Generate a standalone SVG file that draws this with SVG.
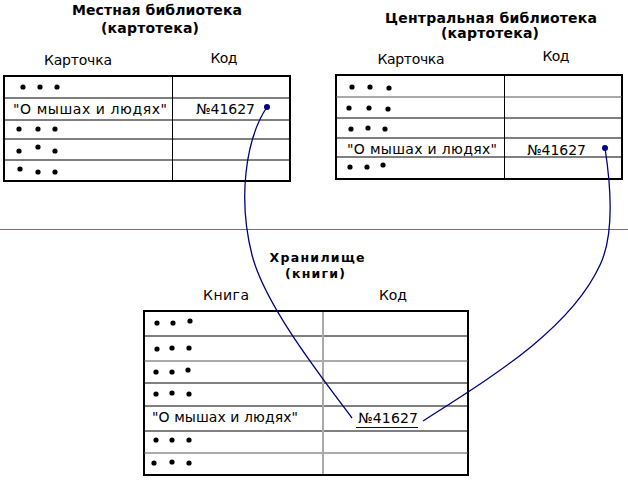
<svg xmlns="http://www.w3.org/2000/svg" width="628" height="482" viewBox="0 0 628 482">
<style>
text{font-family:"DejaVu Sans","Noto Sans",sans-serif;font-size:14px;fill:#000}
.t{font-weight:bold;text-anchor:middle}
.s{font-size:12.5px}
.h{text-anchor:middle}
.box{fill:#fff;stroke:#000;stroke-width:2}
.row{stroke:#000;stroke-width:1}
.rowg{stroke:#555;stroke-width:1}
.col{stroke:#000;stroke-width:1}
.colg{stroke:#aaa;stroke-width:2}
.d circle{fill:#000}
.c{fill:none;stroke:#000080;stroke-width:1.3}
</style>
<rect width="628" height="482" fill="#fff"/>
<line x1="0" y1="229.5" x2="628" y2="229.5" stroke="#e84040" stroke-width="1"/>

<g id="local">
<text class="t" x="157" y="15" textLength="170" lengthAdjust="spacing">Местная библиотека</text>
<text class="t" x="150" y="33" textLength="98" lengthAdjust="spacing">(картотека)</text>
<text class="h" x="78" y="65" textLength="68" lengthAdjust="spacing">Карточка</text>
<text class="h" x="224" y="63" textLength="27" lengthAdjust="spacing">Код</text>
<rect class="box" x="4" y="76" width="286" height="105"/>
<line class="row" x1="4" y1="98" x2="290" y2="98"/>
<line class="row" x1="4" y1="120" x2="290" y2="120"/>
<line class="row" x1="4" y1="139" x2="290" y2="139"/>
<line class="row" x1="4" y1="160" x2="290" y2="160"/>
<line class="col" x1="172.5" y1="76" x2="172.5" y2="181"/>
<g class="d">
<circle cx="23" cy="87" r="2.6"/><circle cx="40" cy="87" r="2.6"/><circle cx="57" cy="87" r="2.6"/>
<circle cx="19" cy="129" r="2.6"/><circle cx="38" cy="129" r="2.6"/><circle cx="55" cy="129" r="2.6"/>
<circle cx="19" cy="151" r="2.6"/><circle cx="38" cy="147" r="2.6"/><circle cx="55" cy="151" r="2.6"/>
<circle cx="20" cy="169" r="2.6"/><circle cx="38" cy="172" r="2.6"/><circle cx="55" cy="172" r="2.6"/>
</g>
<text x="13" y="114" textLength="154" lengthAdjust="spacing">"О мышах и людях"</text>
<text x="196" y="114" textLength="59" lengthAdjust="spacing">№41627</text>
</g>

<g id="central">
<text class="t" x="491" y="23" textLength="212" lengthAdjust="spacing">Центральная библиотека</text>
<text class="t" x="490" y="38" textLength="98" lengthAdjust="spacing">(картотека)</text>
<text class="h" x="411" y="64" textLength="67" lengthAdjust="spacing">Карточка</text>
<text class="h" x="556" y="61" textLength="27" lengthAdjust="spacing">Код</text>
<rect class="box" x="336" y="75" width="286" height="104"/>
<line class="rowg" x1="336" y1="97" x2="622" y2="97"/>
<line class="row" x1="336" y1="118" x2="622" y2="118"/>
<line class="row" x1="336" y1="138" x2="622" y2="138"/>
<line class="row" x1="336" y1="157" x2="622" y2="157"/>
<line class="col" x1="504.5" y1="75" x2="504.5" y2="179"/>
<g class="d">
<circle cx="352" cy="87" r="2.6"/><circle cx="370" cy="87" r="2.6"/><circle cx="389" cy="88" r="2.6"/>
<circle cx="349" cy="108" r="2.6"/><circle cx="369" cy="108" r="2.6"/><circle cx="388" cy="109" r="2.6"/>
<circle cx="351" cy="129" r="2.6"/><circle cx="368" cy="128" r="2.6"/><circle cx="385" cy="129" r="2.6"/>
<circle cx="350" cy="167" r="2.6"/><circle cx="367" cy="167" r="2.6"/><circle cx="383" cy="165" r="2.6"/>
</g>
<text x="347" y="154" textLength="150" lengthAdjust="spacing">"О мышах и людях"</text>
<text x="527" y="155" textLength="59" lengthAdjust="spacing">№41627</text>
</g>

<g id="storage">
<text class="t s" x="317" y="262" textLength="95" lengthAdjust="spacing">Хранилище</text>
<text class="t s" x="315" y="278" textLength="60" lengthAdjust="spacing">(книги)</text>
<text class="h" x="226" y="300" textLength="46" lengthAdjust="spacing">Книга</text>
<text class="h" x="393" y="300" textLength="28" lengthAdjust="spacing">Код</text>
<rect class="box" x="144" y="311" width="324" height="164"/>
<line class="row" x1="144" y1="336" x2="468" y2="336"/>
<line class="rowg" x1="144" y1="361" x2="468" y2="361"/>
<line class="row" x1="144" y1="383" x2="468" y2="383"/>
<line class="row" x1="144" y1="406" x2="468" y2="406"/>
<line class="row" x1="144" y1="431" x2="468" y2="431"/>
<line class="rowg" x1="144" y1="453" x2="468" y2="453"/>
<line class="colg" x1="323" y1="312" x2="323" y2="474"/>
<g class="d">
<circle cx="157" cy="323" r="2.6"/><circle cx="173" cy="323" r="2.6"/><circle cx="190" cy="321" r="2.6"/>
<circle cx="157" cy="349" r="2.6"/><circle cx="172" cy="348" r="2.6"/><circle cx="189" cy="348" r="2.6"/>
<circle cx="156" cy="372" r="2.6"/><circle cx="172" cy="372" r="2.6"/><circle cx="188" cy="370" r="2.6"/>
<circle cx="156" cy="394" r="2.6"/><circle cx="172" cy="393" r="2.6"/><circle cx="189" cy="394" r="2.6"/>
<circle cx="156" cy="440" r="2.6"/><circle cx="172" cy="440" r="2.6"/><circle cx="189" cy="440" r="2.6"/>
<circle cx="154" cy="463" r="2.6"/><circle cx="172" cy="462" r="2.6"/><circle cx="189" cy="463" r="2.6"/>
</g>
<text x="152" y="422" textLength="146" lengthAdjust="spacing">"О мышах и людях"</text>
<text x="358" y="423" textLength="60" lengthAdjust="spacing">№41627</text>
</g>

<g id="connectors">
<line x1="356" y1="427.5" x2="418" y2="427.5" stroke="#000080" stroke-width="1"/>
<path class="c" d="M267,107 C245,140 238,200 252,255 C265,305 320,375 352,418"/>
<path class="c" d="M605,148 C613,200 612,240 600,265 C570,330 490,378 423,421"/>
<circle cx="267" cy="107" r="3" fill="#000080"/>
<circle cx="605" cy="148" r="3" fill="#000080"/>
</g>
</svg>
